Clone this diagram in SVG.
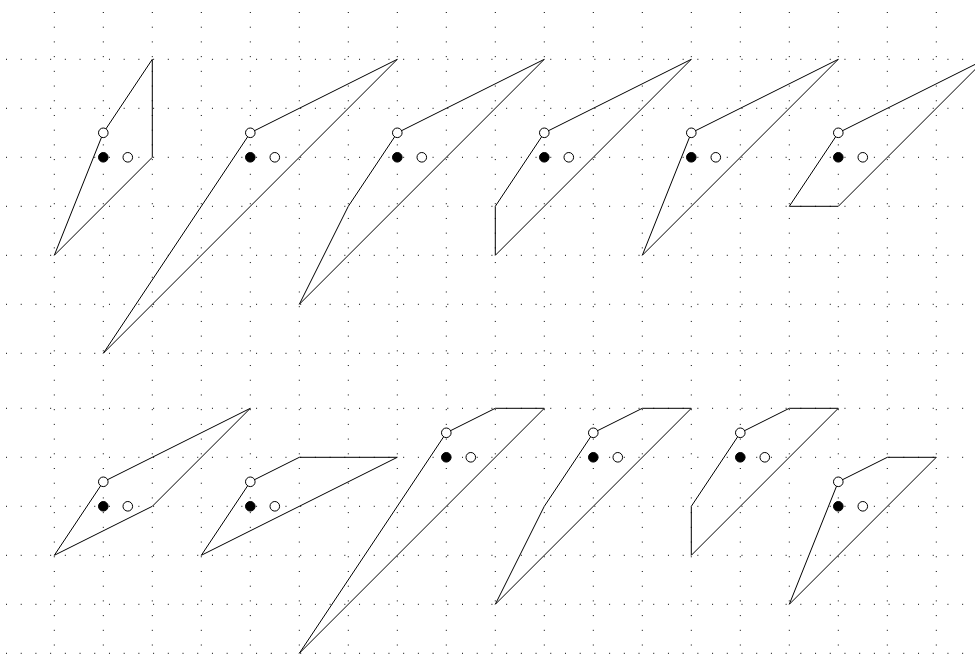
<svg xmlns="http://www.w3.org/2000/svg" width="975" height="655" viewBox="0 0 975 655">
<style>
.grid{stroke:#000;stroke-width:1;stroke-dasharray:1 13.71;fill:none}
.shape{fill:none;stroke:#000;stroke-width:1;stroke-linejoin:miter}
.dot{fill:#000;stroke:#000;stroke-width:1}
.hole{fill:#fff;stroke:#000;stroke-width:1}
</style>
<defs>
<g id="marks">
<circle class="dot" cx="0" cy="0" r="4.8"/>
<circle class="hole" cx="24.5" cy="0" r="4.8"/>
<circle class="hole" cx="0" cy="-24.5" r="4.8"/>
</g>
</defs>
<rect width="975" height="655" fill="#fff"/>
<g id="grid">
<path class="grid" d="M54.3 12V655M103.3 12V655M152.3 12V655M201.3 12V655M250.3 12V655M299.3 12V655M348.3 12V655M397.3 12V655M446.3 12V655M495.3 12V655M544.3 12V655M593.3 12V655M642.3 12V655M691.3 12V655M740.3 12V655M789.3 12V655M838.3 12V655M887.3 12V655M936.3 12V655"/>
<path class="grid" d="M6 59.3H975M6 108.3H975M6 157.3H975M6 206.3H975M6 255.3H975M6 304.3H975M6 353.3H975M6 408.3H975M6 457.3H975M6 506.3H975M6 555.3H975M6 604.3H975M6 653.3H975"/>
</g>
<g id="fig1" transform="translate(103.3,157.3)">
<polygon class="shape" points="-49,98 0,-24.5 49,-98 49,0"/>
<use href="#marks"/>
</g>
<g id="fig2" transform="translate(250.3,157.3)">
<polygon class="shape" points="-147,196 0,-24.5 147,-98"/>
<use href="#marks"/>
</g>
<g id="fig3" transform="translate(397.3,157.3)">
<polygon class="shape" points="-98,147 -49,49 0,-24.5 147,-98"/>
<use href="#marks"/>
</g>
<g id="fig4" transform="translate(544.3,157.3)">
<polygon class="shape" points="-49,98 -49,49 0,-24.5 147,-98"/>
<use href="#marks"/>
</g>
<g id="fig5" transform="translate(691.3,157.3)">
<polygon class="shape" points="-49,98 0,-24.5 147,-98"/>
<use href="#marks"/>
</g>
<g id="fig6" transform="translate(838.3,157.3)">
<polygon class="shape" points="-49,49 0,49 147,-98 0,-24.5"/>
<use href="#marks"/>
</g>
<g id="fig7" transform="translate(103.3,506.3)">
<polygon class="shape" points="-49,49 49,0 147,-98 0,-24.5"/>
<use href="#marks"/>
</g>
<g id="fig8" transform="translate(250.3,506.3)">
<polygon class="shape" points="-49,49 147,-49 49,-49 0,-24.5"/>
<use href="#marks"/>
</g>
<g id="fig9" transform="translate(446.3,457.3)">
<polygon class="shape" points="-147,196 98,-49 49,-49 0,-24.5"/>
<use href="#marks"/>
</g>
<g id="fig10" transform="translate(593.3,457.3)">
<polygon class="shape" points="-98,147 98,-49 49,-49 0,-24.5 -49,49"/>
<use href="#marks"/>
</g>
<g id="fig11" transform="translate(740.3,457.3)">
<polygon class="shape" points="-49,98 98,-49 49,-49 0,-24.5 -49,49"/>
<use href="#marks"/>
</g>
<g id="fig12" transform="translate(838.3,506.3)">
<polygon class="shape" points="-49,98 98,-49 49,-49 0,-24.5"/>
<use href="#marks"/>
</g>
</svg>
